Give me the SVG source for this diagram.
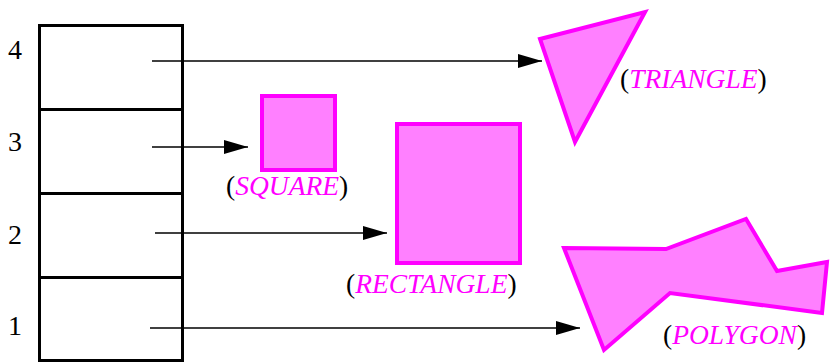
<svg xmlns="http://www.w3.org/2000/svg" width="833" height="364" viewBox="0 0 833 364">
<style>
.cell{fill:#fff;stroke:#000;stroke-width:3}
.num{font-family:"Liberation Serif",serif;font-size:28px;fill:#000}
.shape{fill:#ff80ff;stroke:#ff00ff;stroke-width:4;stroke-linejoin:miter}
.lbl{font-family:"Liberation Serif",serif;font-size:27.5px;fill:#000}
.lbl .it{font-style:italic;fill:#ff00ff}
.conn{stroke:#000;stroke-width:1.4;fill:none;marker-end:url(#ah)}
</style>
<defs>
<marker id="ah" viewBox="0 0 24 14" refX="24" refY="7" markerWidth="24" markerHeight="14" markerUnits="userSpaceOnUse" orient="auto">
<path d="M0,0 L24,7 L0,14 z" fill="#000"/>
</marker>
</defs>
<rect width="833" height="364" fill="#fff"/>
<g id="table">
<rect class="cell" x="39.5" y="25.5" width="143" height="84"/>
<rect class="cell" x="39.5" y="109.5" width="143" height="84"/>
<rect class="cell" x="39.5" y="193.5" width="143" height="84"/>
<rect class="cell" x="39.5" y="277.5" width="143" height="83"/>
<text class="num" x="8" y="59">4</text>
<text class="num" x="8" y="151">3</text>
<text class="num" x="8" y="244">2</text>
<text class="num" x="8" y="335">1</text>
</g>
<g id="connectors">
<line class="conn" x1="152" y1="61" x2="542" y2="61"/>
<line class="conn" x1="152" y1="147" x2="248" y2="147"/>
<line class="conn" x1="155" y1="233" x2="387" y2="233"/>
<line class="conn" x1="150" y1="328" x2="580" y2="328"/>
</g>
<g id="square">
<rect class="shape" x="262" y="96" width="73" height="74"/>
<text class="lbl" x="226" y="195">(<tspan class="it">SQUARE</tspan>)</text>
</g>
<g id="rectangle">
<rect class="shape" x="397" y="124" width="123" height="139"/>
<text class="lbl" x="346" y="293">(<tspan class="it">RECTANGLE</tspan>)</text>
</g>
<g id="triangle">
<polygon class="shape" points="540,39 645,12 575,142"/>
<text class="lbl" x="620" y="88">(<tspan class="it">TRIANGLE</tspan>)</text>
</g>
<g id="polygon">
<polygon class="shape" points="564,248 666,249 746,219 777,271 827,262 822,313 670,293 604,350"/>
<text class="lbl" x="663" y="344">(<tspan class="it">POLYGON</tspan>)</text>
</g>
</svg>
